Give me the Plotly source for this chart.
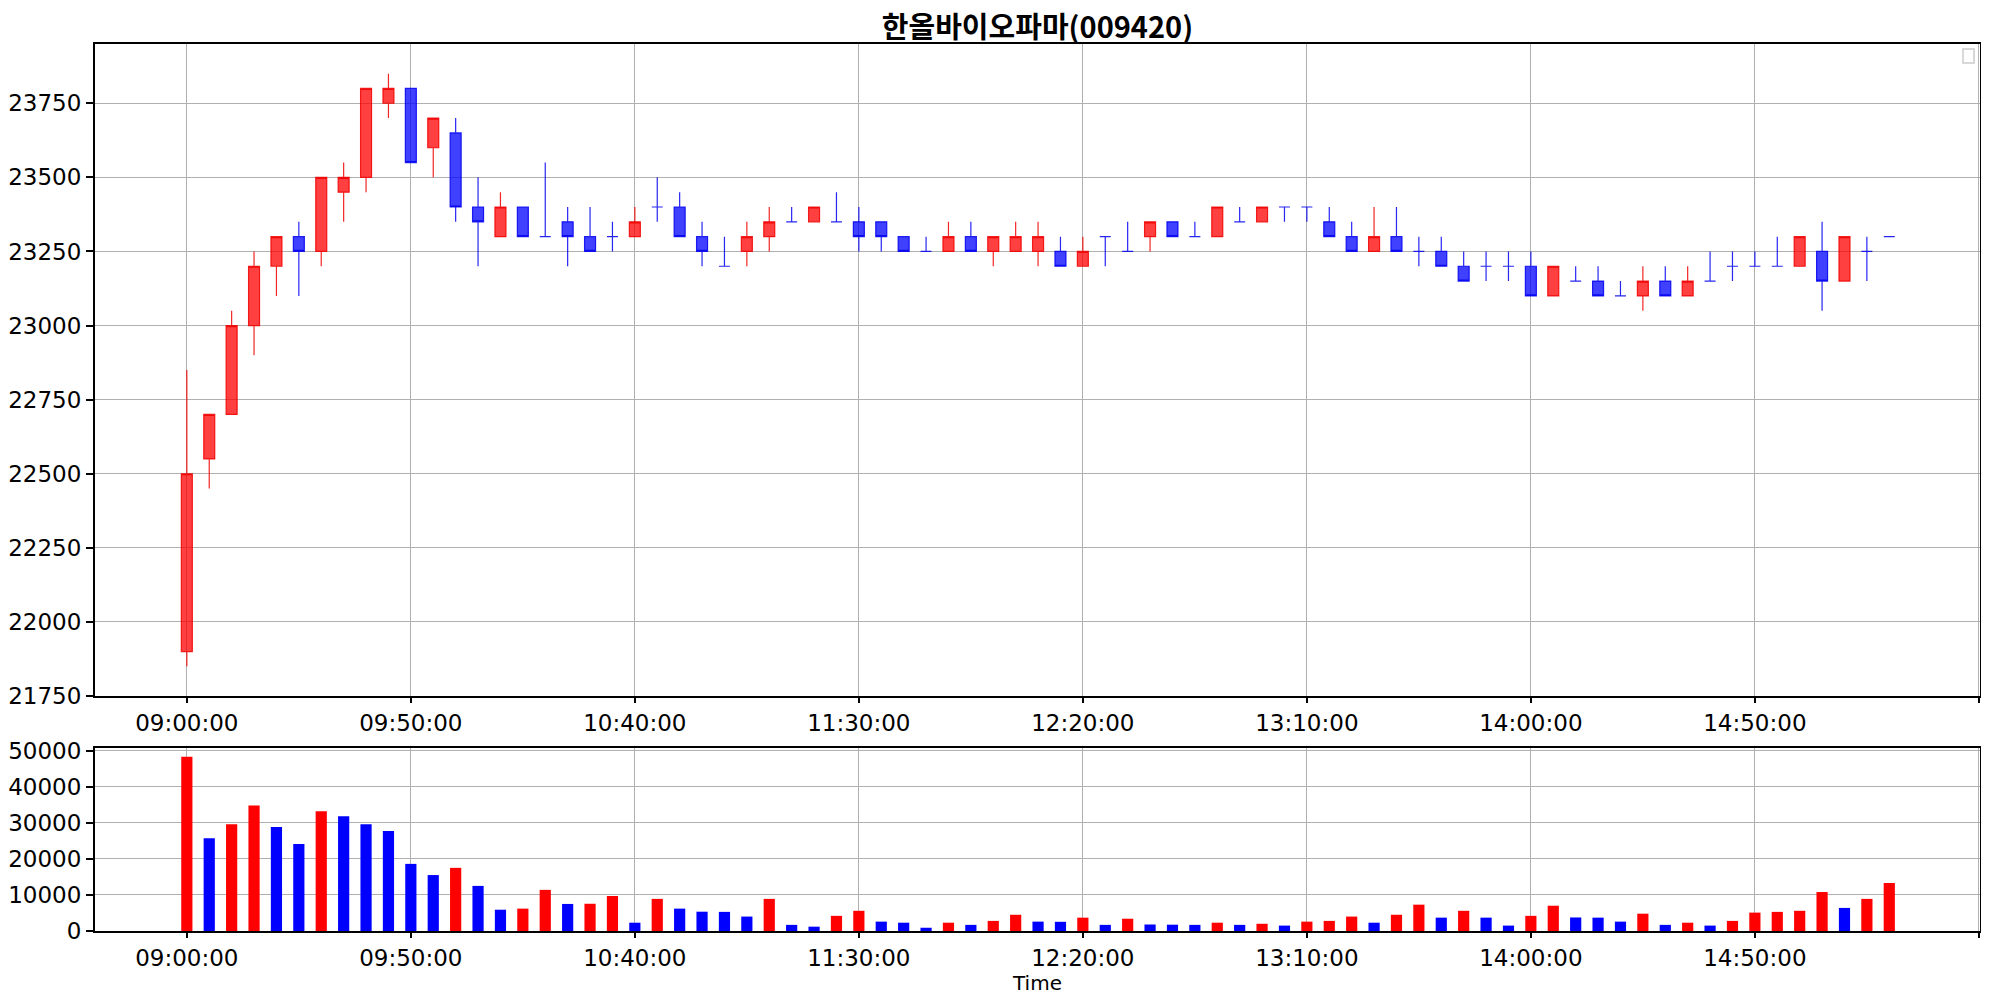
import plotly.graph_objects as go

title_text = "한올바이오파마(009420)"

times = [
    "09:00:00", "09:05:00", "09:10:00", "09:15:00", "09:20:00", "09:25:00", "09:30:00", "09:35:00",
    "09:40:00", "09:45:00", "09:50:00", "09:55:00", "10:00:00", "10:05:00", "10:10:00", "10:15:00",
    "10:20:00", "10:25:00", "10:30:00", "10:35:00", "10:40:00", "10:45:00", "10:50:00", "10:55:00",
    "11:00:00", "11:05:00", "11:10:00", "11:15:00", "11:20:00", "11:25:00", "11:30:00", "11:35:00",
    "11:40:00", "11:45:00", "11:50:00", "11:55:00", "12:00:00", "12:05:00", "12:10:00", "12:15:00",
    "12:20:00", "12:25:00", "12:30:00", "12:35:00", "12:40:00", "12:45:00", "12:50:00", "12:55:00",
    "13:00:00", "13:05:00", "13:10:00", "13:15:00", "13:20:00", "13:25:00", "13:30:00", "13:35:00",
    "13:40:00", "13:45:00", "13:50:00", "13:55:00", "14:00:00", "14:05:00", "14:10:00", "14:15:00",
    "14:20:00", "14:25:00", "14:30:00", "14:35:00", "14:40:00", "14:45:00", "14:50:00", "14:55:00",
    "15:00:00", "15:05:00", "15:10:00", "15:15:00", "15:20:00",
]

opens = [
    21900, 22550, 22700, 23000, 23200, 23300, 23250, 23450, 23500, 23750,
    23800, 23600, 23650, 23400, 23300, 23400, 23300, 23350, 23300, 23300,
    23300, 23400, 23400, 23300, 23200, 23250, 23300, 23350, 23350, 23350,
    23350, 23350, 23300, 23250, 23250, 23300, 23250, 23250, 23250, 23250,
    23200, 23300, 23250, 23300, 23350, 23300, 23300, 23350, 23350, 23400,
    23400, 23350, 23300, 23250, 23300, 23250, 23250, 23200, 23200, 23200,
    23200, 23100, 23150, 23150, 23100, 23100, 23150, 23100, 23150, 23200,
    23200, 23200, 23200, 23250, 23150, 23250, 23300,
]
highs = [
    22850, 22700, 23050, 23250, 23300, 23350, 23500, 23550, 23800, 23850,
    23800, 23700, 23700, 23500, 23450, 23400, 23550, 23400, 23400, 23350,
    23400, 23500, 23450, 23350, 23300, 23350, 23400, 23400, 23400, 23450,
    23400, 23350, 23300, 23300, 23350, 23350, 23300, 23350, 23350, 23300,
    23300, 23300, 23350, 23350, 23350, 23350, 23400, 23400, 23400, 23400,
    23400, 23400, 23350, 23400, 23400, 23300, 23300, 23250, 23250, 23250,
    23250, 23200, 23200, 23200, 23150, 23200, 23200, 23200, 23250, 23250,
    23250, 23300, 23300, 23350, 23300, 23300, 23300,
]
lows = [
    21850, 22450, 22700, 22900, 23100, 23100, 23200, 23350, 23450, 23700,
    23550, 23500, 23350, 23200, 23300, 23300, 23300, 23200, 23250, 23250,
    23300, 23350, 23300, 23200, 23200, 23200, 23250, 23350, 23350, 23350,
    23250, 23250, 23250, 23250, 23250, 23250, 23200, 23250, 23200, 23200,
    23200, 23200, 23250, 23250, 23300, 23300, 23300, 23350, 23350, 23350,
    23350, 23300, 23250, 23250, 23250, 23200, 23200, 23150, 23150, 23150,
    23100, 23100, 23150, 23100, 23100, 23050, 23100, 23100, 23150, 23150,
    23200, 23200, 23200, 23050, 23150, 23150, 23300,
]
closes = [
    22500, 22700, 23000, 23200, 23300, 23250, 23500, 23500, 23800, 23800,
    23550, 23700, 23400, 23350, 23400, 23300, 23300, 23300, 23250, 23300,
    23350, 23400, 23300, 23250, 23200, 23300, 23350, 23350, 23400, 23350,
    23300, 23300, 23250, 23250, 23300, 23250, 23300, 23300, 23300, 23200,
    23250, 23300, 23250, 23350, 23300, 23300, 23400, 23350, 23400, 23400,
    23400, 23300, 23250, 23300, 23250, 23250, 23200, 23150, 23200, 23200,
    23100, 23200, 23150, 23100, 23100, 23150, 23100, 23150, 23150, 23200,
    23200, 23200, 23300, 23150, 23300, 23250, 23300,
]
volumes = [
    48300, 25700, 29600, 34800, 28800, 24100, 33200, 31800, 29600, 27700,
    18600, 15500, 17500, 12500, 5900, 6200, 11400, 7500, 7550, 9700,
    2300, 8900, 6200, 5350, 5300, 4000, 8900, 1700, 1200, 4200,
    5600, 2600, 2300, 900, 2300, 1700, 2800, 4500, 2600, 2550,
    3700, 1700, 3400, 1800, 1750, 1700, 2300, 1700, 2000, 1500,
    2600, 2800, 4000, 2300, 4500, 7300, 3700, 5600, 3700, 1500,
    4200, 7000, 3750, 3700, 2600, 4800, 1700, 2300, 1500, 2800,
    5100, 5300, 5600, 10800, 6400, 8900, 13300,
]

price_ticks = [21750, 22000, 22250, 22500, 22750, 23000, 23250, 23500, 23750]
volume_ticks = [0, 10000, 20000, 30000, 40000, 50000]

RED = "#ff0000"
BLUE = "#0000ff"

pos = list(range(len(times)))
up_idx = [i for i in pos if closes[i] > opens[i]]
dn_idx = [i for i in pos if closes[i] <= opens[i]]

vol_colors = [RED if (i == 0 or volumes[i] > volumes[i - 1]) else BLUE for i in pos]

tick_pos = list(range(0, 81, 10))
tick_txt = [times[p] if p < len(times) else "" for p in tick_pos]

fig = go.Figure()


def add_candles(idx, fill, line):
    fig.add_trace(go.Candlestick(
        x=[pos[i] for i in idx],
        open=[opens[i] for i in idx],
        high=[highs[i] for i in idx],
        low=[lows[i] for i in idx],
        close=[closes[i] for i in idx],
        increasing=dict(fillcolor=fill, line=dict(color=line, width=1.2)),
        decreasing=dict(fillcolor=fill, line=dict(color=line, width=1.2)),
        xaxis="x", yaxis="y", showlegend=False,
    ))


add_candles(up_idx, "rgba(255,0,0,0.75)", "rgba(240,0,0,0.85)")
add_candles(dn_idx, "rgba(0,0,255,0.75)", "rgba(0,0,240,0.85)")

fig.add_trace(go.Bar(
    x=pos, y=volumes, width=0.5, marker=dict(color=vol_colors, line=dict(width=0)),
    xaxis="x2", yaxis="y2", showlegend=False,
))

# page body has an 8px default margin; the figure is sized to fit the window
OFF = 8
W, H = 1989 - OFF, 999 - OFF
left, right = 95 - OFF, 1980 - OFF
top1, bot1 = 44 - OFF, 696 - OFF
top2, bot2 = 748 - OFF, 931 - OFF

xr = [-4.1, 80.05]
grid = "#b0b0b0"
tickfont = dict(family="DejaVu Sans", size=23, color="black")

common_x = dict(
    range=xr, tickmode="array", tickvals=tick_pos, ticktext=tick_txt,
    showgrid=True, gridcolor=grid, gridwidth=1.3,
    showline=True, linecolor="black", linewidth=2, mirror=True,
    ticks="outside", ticklen=5, tickwidth=1.5, tickcolor="black",
    tickfont=tickfont, zeroline=False, rangeslider=dict(visible=False),
    domain=[left / W, right / W], automargin=False,
)
common_y = dict(
    showgrid=True, gridcolor=grid, gridwidth=1.3,
    showline=True, linecolor="black", linewidth=2, mirror=True,
    ticks="outside", ticklen=7, tickwidth=1.5, tickcolor="black",
    tickfont=tickfont, zeroline=False, tickformat="d", automargin=False,
)

fig.update_layout(
    width=W, height=H,
    margin=dict(l=0, r=0, t=0, b=0, autoexpand=False),
    paper_bgcolor="white", plot_bgcolor="white",
    showlegend=False,
    title=dict(text=title_text, x=(left + right) / 2 / W, xanchor="center",
               y=1 - (28 - OFF) / H, yanchor="middle", automargin=False,
               font=dict(family="Noto Sans CJK KR", size=29, color="black", weight="bold")),
    xaxis=dict(common_x, anchor="y"),
    yaxis=dict(common_y, range=[21750, 23950], tickmode="array", tickvals=price_ticks,
               domain=[(H - bot1) / H, (H - top1) / H], anchor="x"),
    xaxis2=dict(common_x, anchor="y2",
                title=dict(text="Time", font=dict(family="DejaVu Sans", size=20, color="black"),
                           standoff=0)),
    yaxis2=dict(common_y, range=[0, max(volumes) * 1.05], tickmode="array", tickvals=volume_ticks,
                domain=[(H - bot2) / H, (H - top2) / H], anchor="x2"),
    shapes=[dict(type="rect", xref="paper", yref="paper",
                 x0=(1963 - OFF) / W, x1=(1974 - OFF) / W,
                 y0=(H - (63 - OFF)) / H, y1=(H - (49 - OFF)) / H,
                 line=dict(color="#cccccc", width=1.5), fillcolor="white")],
)

fig.write_html("out.html")
